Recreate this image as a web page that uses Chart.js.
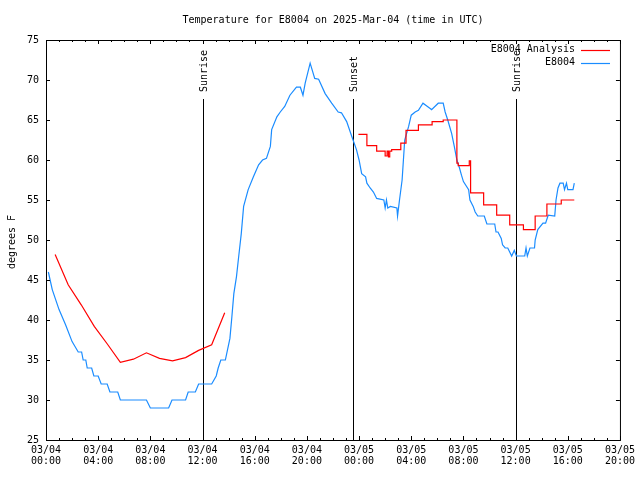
<!DOCTYPE html>
<html>
<head>
<meta charset="utf-8">
<title>Temperature for E8004</title>
<script src="https://cdn.jsdelivr.net/npm/chart.js@4.4.1/dist/chart.umd.min.js"></script>
<style>
    html, body { margin: 0; padding: 0; background: #fff; }
</style>
</head>
<body>
<canvas id="tempChart" width="640" height="480"></canvas>
<script>
// hours since 03/04 00:00 UTC
const obsHours = [0.18, 0.48, 1.0, 1.5, 2.0, 2.47, 2.73, 2.85, 3.05, 3.16, 3.5, 3.67, 4.0, 4.23, 4.69, 4.9, 5.5, 5.7, 7.7, 8.0, 9.4, 9.66, 10.7, 10.9, 11.45, 11.7, 12.7,
    13.05, 13.2, 13.4, 13.75, 14.1, 14.25, 14.4, 14.6, 14.77, 14.97, 15.15, 15.5, 15.9, 16.3, 16.6, 16.9, 17.2, 17.3, 17.7, 17.96, 18.3, 18.7, 19.2, 19.5, 19.7, 19.87,
    20.25, 20.6, 20.9, 21.4, 21.9, 22.4, 22.65, 23.05, 23.45, 23.8, 24.0, 24.2, 24.5, 24.6, 24.85, 25.1, 25.35, 25.9, 26.0, 26.1, 26.2, 26.4, 26.9, 26.95, 27.1,
    27.3, 27.4, 27.5, 27.8, 28.0, 28.3, 28.55, 28.9, 29.4, 29.56, 30.07, 30.45, 30.6, 30.8, 31.1, 31.3, 31.5, 31.7, 31.85, 32.0, 32.4, 32.5, 32.75, 32.9, 33.1,
    33.6, 33.8, 34.4, 34.5, 34.65, 34.9, 35.0, 35.2, 35.4, 35.7, 35.9, 36.06, 36.7, 36.8, 36.9, 37.1, 37.45, 37.5, 37.7, 38.1, 38.3, 38.5, 39.0, 39.1, 39.25,
    39.4, 39.65, 39.75, 39.9, 40.0, 40.4, 40.5];
const obsTemps = [46.0, 43.8, 41.3, 39.4, 37.3, 36.0, 36.0, 35.0, 35.0, 34.0, 34.0, 33.0, 33.0, 32.0, 32.0, 31.0, 31.0, 30.0, 30.0, 29.0, 29.0, 30.0, 30.0, 31.0, 31.0, 32.0, 32.0,
    33.0, 34.0, 35.0, 35.0, 37.7, 40.4, 43.3, 45.4, 47.9, 50.8, 54.2, 56.3, 57.9, 59.4, 60.0, 60.2, 61.7, 63.8, 65.4, 66.0, 66.7, 68.1, 69.1, 69.1, 68.1, 69.6,
    72.1, 70.2, 70.1, 68.3, 67.1, 66.0, 65.9, 64.8, 62.9, 61.3, 60.0, 58.3, 57.9, 57.1, 56.5, 56.0, 55.2, 55.0, 54.0, 55.0, 54.0, 54.2, 54.0, 53.0, 55.0,
    57.5, 60.0, 62.5, 64.2, 65.6, 66.0, 66.2, 67.1, 66.5, 66.3, 67.1, 67.1, 66.0, 65.0, 63.3, 61.7, 60.0, 59.0, 58.1, 57.3, 56.3, 55.0, 54.2, 53.5, 53.0,
    53.0, 52.0, 52.0, 51.0, 51.0, 50.2, 49.4, 49.0, 49.0, 48.0, 48.7, 48.0, 48.0, 49.0, 48.0, 49.0, 49.0, 50.0, 51.3, 52.1, 52.1, 53.1, 53.0, 55.0, 56.5,
    57.1, 57.1, 56.3, 57.1, 56.3, 56.3, 57.1];

const anaHours1 = [0.7, 1.7, 2.7, 3.7, 4.7, 5.7, 6.7, 7.7, 8.7, 9.7, 10.7, 11.7, 12.7, 13.7];
const anaTemps1 = [48.2, 44.4, 41.9, 39.2, 37.0, 34.7, 35.1, 35.9, 35.2, 34.9, 35.3, 36.2, 36.9, 40.9];

const anaHours2 = [23.95, 24.6, 25.35, 26.0, 26.15, 26.25, 26.35, 26.5, 27.2, 27.6, 28.55, 29.6, 30.45, 31.5, 31.6, 32.45, 32.55, 33.55, 34.55, 35.55, 36.6, 37.5, 38.4, 39.5, 40.5];
const anaTemps2 = [63.2, 61.8, 61.1, 60.5, 61.1, 60.4, 61.1, 61.3, 62.1, 63.7, 64.4, 64.8, 65.0, 59.6, 59.3, 59.9, 55.9, 54.4, 53.1, 51.9, 51.3, 53.0, 54.5, 55.0, 55.0];

const sunHours = [12.03, 23.5, 36.02];
const sunLabels = ['Sunrise', 'Sunset', 'Sunrise'];

const dayLabels = ['03/04', '03/05'];
const xMin = 0, xMax = 44, xStep = 4;
const yMin = 25, yMax = 75, yStep = 5;

const FONT = '10px "DejaVu Sans Mono", "Liberation Mono", monospace';
const RED = '#ff0000';
const BLUE = '#1a8cff';

const toPoints = (xs, ys) => xs.map((x, i) => ({ x: x, y: ys[i] }));

const gnuplotDecor = {
    id: 'gnuplotDecor',
    beforeDatasetsDraw(chart) {
        const { ctx, chartArea: a, scales: { x } } = chart;
        ctx.save();
        ctx.strokeStyle = '#000';
        ctx.lineWidth = 1;
        ctx.fillStyle = '#000';
        ctx.font = FONT;
        sunHours.forEach((h, i) => {
            const px = Math.round(x.getPixelForValue(h)) + 0.5;
            ctx.beginPath();
            ctx.moveTo(px, 99);
            ctx.lineTo(px, a.bottom);
            ctx.stroke();
            ctx.save();
            ctx.translate(px + 1, 92);
            ctx.rotate(-Math.PI / 2);
            ctx.textAlign = 'left';
            ctx.textBaseline = 'middle';
            ctx.fillText(sunLabels[i], 0, 0);
            ctx.restore();
        });
        ctx.restore();
    },
    afterDatasetsDraw(chart) {
        const { ctx, chartArea: a, scales: { x, y } } = chart;
        ctx.save();
        ctx.strokeStyle = '#000';
        ctx.lineWidth = 1;
        ctx.strokeRect(a.left + 0.5, a.top + 0.5, a.right - a.left, a.bottom - a.top);

        ctx.beginPath();
        for (let h = xMin; h <= xMax; h++) {
            const px = Math.round(x.getPixelForValue(h)) + 0.5;
            const len = h % xStep === 0 ? 4 : 2;
            ctx.moveTo(px, a.bottom);
            ctx.lineTo(px, a.bottom - len);
            ctx.moveTo(px, a.top);
            ctx.lineTo(px, a.top + len);
        }
        for (let t = yMin; t <= yMax; t += yStep) {
            const py = Math.round(y.getPixelForValue(t)) + 0.5;
            ctx.moveTo(a.left, py);
            ctx.lineTo(a.left + 4, py);
            ctx.moveTo(a.right, py);
            ctx.lineTo(a.right - 4, py);
        }
        ctx.stroke();

        // title and y label
        ctx.fillStyle = '#000';
        ctx.font = FONT;
        ctx.textAlign = 'center';
        ctx.textBaseline = 'middle';
        ctx.fillText('Temperature for E8004 on 2025-Mar-04 (time in UTC)', 333, 20);
        ctx.save();
        ctx.translate(12, 242);
        ctx.rotate(-Math.PI / 2);
        ctx.fillText('degrees F', 0, 0);
        ctx.restore();

        // legend, top right inside the plot
        const rows = [['E8004 Analysis', RED, 49.5], ['E8004', BLUE, 62.5]];
        ctx.textAlign = 'right';
        rows.forEach(([txt, col, ly]) => {
            ctx.fillStyle = '#000';
            ctx.fillText(txt, 575, ly);
            ctx.strokeStyle = col;
            ctx.lineWidth = 1.2;
            ctx.beginPath();
            ctx.moveTo(581, Math.round(ly) + 0.5);
            ctx.lineTo(610, Math.round(ly) + 0.5);
            ctx.stroke();
        });
        ctx.restore();
    }
};

const tempChart = new Chart(document.getElementById('tempChart').getContext('2d'), {
    type: 'line',
    data: {
        datasets: [
            {
                label: 'E8004 Analysis',
                data: toPoints(anaHours1, anaTemps1),
                borderColor: RED,
                borderWidth: 1.2,
                pointRadius: 0,
                tension: 0
            },
            {
                label: 'E8004 Analysis (steps)',
                data: toPoints(anaHours2, anaTemps2),
                borderColor: RED,
                borderWidth: 1.2,
                pointRadius: 0,
                stepped: 'before'
            },
            {
                label: 'E8004',
                data: toPoints(obsHours, obsTemps),
                borderColor: BLUE,
                borderWidth: 1.2,
                pointRadius: 0,
                tension: 0
            }
        ]
    },
    options: {
        responsive: false,
        animation: false,
        events: [],
        layout: { padding: { top: 40, right: 19, left: 0, bottom: 0 } },
        plugins: {
            legend: { display: false },
            title: { display: false },
            tooltip: { enabled: false }
        },
        scales: {
            x: {
                type: 'linear',
                min: xMin,
                max: xMax,
                grid: { display: false, drawTicks: false },
                border: { display: false },
                afterFit: s => { s.height = 40; },
                ticks: {
                    stepSize: xStep,
                    autoSkip: false,
                    maxRotation: 0,
                    padding: 5,
                    color: '#000',
                    font: { family: '"DejaVu Sans Mono", "Liberation Mono", monospace', size: 10, lineHeight: 1.1 },
                    callback: v => {
                        const day = dayLabels[Math.floor(v / 24)];
                        const hh = String(v % 24).padStart(2, '0');
                        return [day, `${hh}:00`];
                    }
                }
            },
            y: {
                min: yMin,
                max: yMax,
                grid: { display: false, drawTicks: false },
                border: { display: false },
                afterFit: s => { s.width = 46; },
                ticks: {
                    stepSize: yStep,
                    padding: 7,
                    color: '#000',
                    font: { family: '"DejaVu Sans Mono", "Liberation Mono", monospace', size: 10 }
                }
            }
        }
    },
    plugins: [gnuplotDecor]
});
</script>
</body>
</html>
